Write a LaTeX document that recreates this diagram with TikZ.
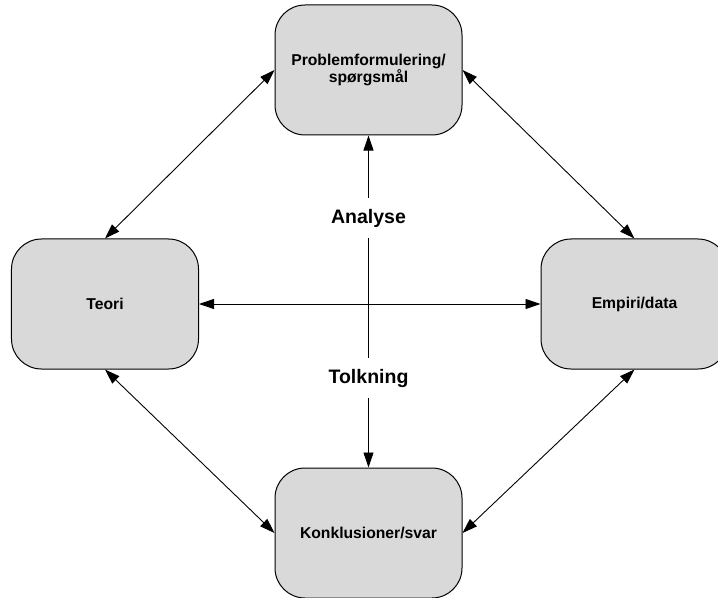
\documentclass[tikz,border=0pt]{standalone}
\usepackage{fontspec}
\setmainfont{Liberation Sans}
\usetikzlibrary{arrows.meta}
\definecolor{boxgray}{RGB}{217,217,217}
\begin{document}
\begin{tikzpicture}[x=1bp,y=-1bp,
  box/.style={draw=black, line width=1bp, fill=boxgray, rounded corners=30bp,
    minimum width=187bp, minimum height=130bp, align=center,
    font=\fontsize{15.7bp}{17.5bp}\selectfont\bfseries},
  link/.style={line width=0.9bp, {Triangle[length=15bp,width=10bp]}-{Triangle[length=15bp,width=10bp]}},
  tag/.style={fill=white, inner xsep=4bp, inner ysep=11bp, text height=14bp, text depth=4bp,
    font=\fontsize{19.5bp}{22bp}\selectfont\bfseries}]
  \useasboundingbox (0,0) rectangle (718,598);

  % the four stages of the research process
  \node[box] (prob) at (368.5,70) {Problemformulering/\\spørgsmål};
  \node[box] (teori) at (105,304) {Teori};
  \node[box] (emp) at (634.5,304) {Empiri/data};
  \node[box] (konk) at (368.5,533) {Konklusioner/svar};

  % links around the diamond
  \draw[link] (teori.north) -- (prob.west);
  \draw[link] (prob.east) -- (emp.north);
  \draw[link] (teori.south) -- (konk.west);
  \draw[link] (emp.south) -- (konk.east);
  \draw[link] (teori.east) -- (emp.west);

  % vertical axis with its two labels
  \draw[link] (prob.south) -- (konk.north);
  \node[tag] (ana) at (368.5,218) {Analyse};
  \node[tag] (tolk) at (368.5,378) {Tolkning};
\end{tikzpicture}
\end{document}
